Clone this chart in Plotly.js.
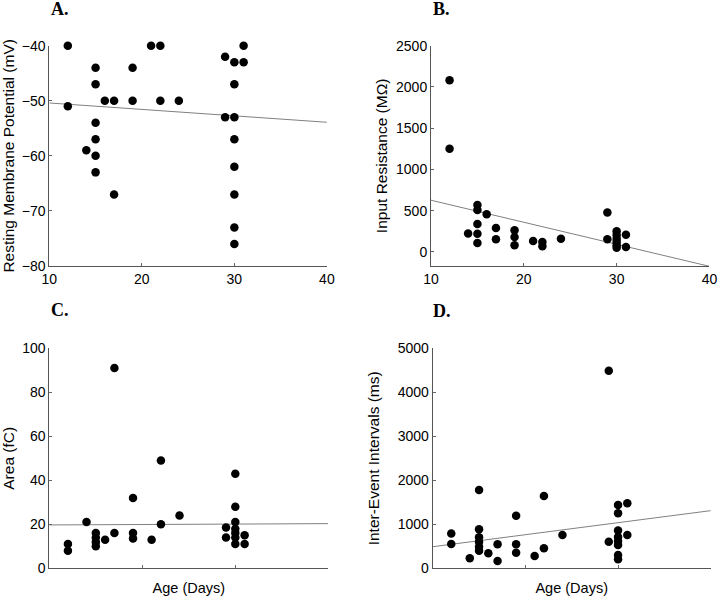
<!DOCTYPE html>
<html>
<head>
<meta charset="utf-8">
<script src="https://cdn.plot.ly/plotly-3.0.1.min.js"></script>
<style>html,body{margin:0;padding:0;background:#fff;}#chart{width:720px;height:596px;}</style>
</head>
<body>
<div id="chart"></div>
<script>
// Panel A: Resting membrane potential (mV) vs age (days)
var ageA = [12,12,14,15,15,15,15,15,15,16,17,17,19,19,21,22,22,24,29,29,30,30,30,30,30,30,30,30,31,31];
var rmpA = [-40,-51,-59,-44,-47,-54,-57,-60,-63,-50,-50,-67,-44,-50,-40,-40,-50,-50,-42,-53,-43,-47,-53,-57,-62,-67,-73,-76,-40,-43];
// Panel B: Input resistance (MΩ)
var ageB = [12,12,14,15,15,15,15,15,16,17,17,19,19,19,21,22,22,24,29,29,30,30,30,30,30,30,31,31];
var resB = [2080,1250,223,570,510,340,220,110,457,290,153,263,182,81,133,121,69,160,478,153,250,205,160,120,80,50,210,60];
// Panel C: Area (fC)
var ageC = [12,12,14,15,15,15,15,16,17,17,19,19,19,21,22,22,24,29,29,30,30,30,30,30,30,30,31,31];
var areaC = [11,8,21,16,14,12,10,13,16,91,32,16,13.5,13,49,20,24,18.5,14,43,28,21,18,16,14,11,15,11];
// Panel D: Inter-event intervals (ms)
var ageD = [12,12,14,15,15,15,15,15,15,16,17,17,19,19,19,21,22,22,24,29,29,30,30,30,30,30,30,30,30,31,31];
var ieiD = [790,550,227,1780,890,705,605,491,400,341,545,166,1196,545,355,280,1643,455,757,4490,605,1440,1250,860,710,620,530,300,205,1477,757];
// Regression lines (values at age 10 and 40)
var fitX = [10,40];
var fitA = [-50.4,-53.9];
var fitB = [627,-174];
var fitC = [19.7,20.3];
var fitD = [490,1310];
// Labels
var panelLabels = ["A.","B.","C.","D."];
var yTitles = ["Resting Membrane Potential (mV)","Input Resistance (MΩ)","Area (fC)","Inter-Event Intervals (ms)"];
var xTitle = "Age (Days)";

var FONT = "Arial, 'Liberation Sans', sans-serif";
function dots(x,y,xa,ya){
  return {x:x,y:y,xaxis:xa,yaxis:ya,type:"scatter",mode:"markers",cliponaxis:false,
    marker:{color:"#000",size:8.5},showlegend:false,hoverinfo:"x+y"};
}
function fit(y,xa,ya){
  return {x:fitX,y:y,xaxis:xa,yaxis:ya,type:"scatter",mode:"lines",cliponaxis:false,
    line:{color:"#808080",width:1},showlegend:false,hoverinfo:"skip"};
}
var data = [
  fit(fitA,"x","y"), dots(ageA,rmpA,"x","y"),
  fit(fitB,"x2","y2"), dots(ageB,resB,"x2","y2"),
  fit(fitC,"x3","y3"), dots(ageC,areaC,"x3","y3"),
  fit(fitD,"x4","y4"), dots(ageD,ieiD,"x4","y4")
];
function xax(dom, labels, anchor, title){
  var a = {domain:dom, range:[10,40], tickvals:[10,20,30,40], showticklabels:labels,
    ticks:"inside", ticklen:3, tickcolor:"#666", showline:true, linecolor:"#555", linewidth:1,
    showgrid:false, zeroline:false, anchor:anchor, tickfont:{size:14,color:"#000",family:FONT}};
  if(title){ a.title = {text:title, font:{size:14.5,color:"#000",family:FONT}, standoff:15}; }
  return a;
}
function yax(dom, range, tv, anchor, title, standoff){
  return {domain:dom, range:range, tickvals:tv, ticks:"inside", ticklen:3, tickcolor:"#666",
    showline:true, linecolor:"#555", linewidth:1, showgrid:false, zeroline:false, anchor:anchor,
    tickfont:{size:14,color:"#000",family:FONT},
    title:{text:title, font:{size:15.5,color:"#000",family:FONT}, standoff:standoff}};
}
var domTop = [0.5537,0.9233], domBot = [0.0465,0.4156];
var layout = {
  width:720, height:596, margin:{l:0,r:0,t:0,b:0},
  paper_bgcolor:"#fff", plot_bgcolor:"#fff", font:{family:FONT,color:"#000"},
  xaxis: xax([0.0685,0.4540], true, "y"),
  yaxis: yax(domTop, [-80,-40], [-80,-70,-60,-50,-40], "x", yTitles[0], 6),
  xaxis2: xax([0.5986,0.9854], true, "y2"),
  yaxis2: yax(domTop, [-170,2500], [0,500,1000,1500,2000,2500], "x2", yTitles[1], 4),
  xaxis3: xax([0.0685,0.4560], false, "y3", xTitle),
  yaxis3: yax(domBot, [0,100], [0,20,40,60,80,100], "x3", yTitles[2], 10),
  xaxis4: xax([0.6010,0.9871], false, "y4", xTitle),
  yaxis4: yax(domBot, [0,5000], [0,1000,2000,3000,4000,5000], "x4", yTitles[3], 14),
  annotations: [
    [49,17],[431,17],[49,318],[431,319]
  ].map(function(p,i){
    return {text:"<b>"+panelLabels[i]+"</b>", xref:"paper", yref:"paper",
      x:p[0]/720, y:1-p[1]/596, xanchor:"left", yanchor:"bottom", yshift:-4, showarrow:false,
      font:{family:"'Liberation Serif', 'Times New Roman', serif", size:18, color:"#000"}};
  })
};
Plotly.newPlot("chart", data, layout, {staticPlot:true});
</script>
</body>
</html>
